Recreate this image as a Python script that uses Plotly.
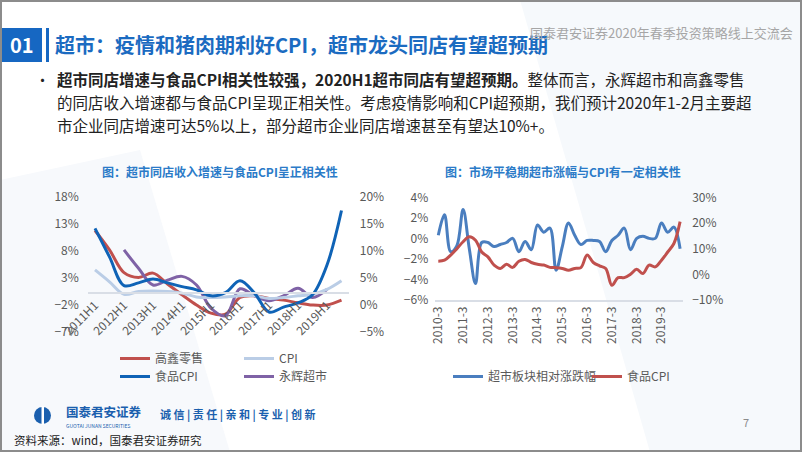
import plotly.graph_objects as go

W, H = 802, 452
def px(x): return x / W
def py(y): return 1 - y / H

FONT = "Noto Sans CJK SC"

# ---------------- Left chart data (semi-annual, %) ----------------
half_years = ["2011H1", "2011H2", "2012H1", "2012H2", "2013H1", "2013H2", "2014H1", "2014H2",
              "2015H1", "2015H2", "2016H1", "2016H2", "2017H1", "2017H2", "2018H1", "2018H2",
              "2019H1", "2019H2"]
half_ticks = ["2011H1", "2012H1", "2013H1", "2014H1", "2015H1", "2016H1", "2017H1", "2018H1", "2019H1"]
gaoxin = [11.8, 8.2, 4.0, 3.1, 3.9, 1.9, -0.1, -2.0, -3.5, -3.7, -0.6, -0.3, -0.8, -1.1, -1.6, -2.0, -2.0, -1.1]
cpi = [6.5, 4.3, 2.0, 2.5, 2.6, 2.5, 2.2, 1.5, 1.4, 1.5, 1.7, 1.7, 1.2, 1.4, 1.7, 2.0, 2.9, 4.5]
food_cpi_h = [14.2, 8.9, 3.6, 4.1, 4.8, 4.1, 3.4, 2.8, 1.7, 2.3, 4.5, 2.2, -1.3, -0.4, 0.4, 1.9, 7.4, 17.5]
yonghui = [None, None, 8.2, 4.8, 1.7, 2.6, 3.3, 1.7, -2.6, -4.0, 1.0, -0.3, -1.2, -0.3, 1.1, -0.6, 0.9, None]

# ---------------- Right chart data (quarterly) ----------------
quarters = ["2010-3", "2010-6", "2010-9", "2010-12", "2011-3", "2011-6", "2011-9", "2011-12",
            "2012-3", "2012-6", "2012-9", "2012-12", "2013-3", "2013-6", "2013-9", "2013-12",
            "2014-3", "2014-6", "2014-9", "2014-12", "2015-3", "2015-6", "2015-9", "2015-12",
            "2016-3", "2016-6", "2016-9", "2016-12", "2017-3", "2017-6", "2017-9", "2017-12",
            "2018-3", "2018-6", "2018-9", "2018-12", "2019-3", "2019-6", "2019-9", "2019-12"]
quarter_ticks = ["2010-3", "2011-3", "2012-3", "2013-3", "2014-3", "2015-3", "2016-3",
                 "2017-3", "2018-3", "2019-3"]
sector_rel = [0.3, 2.3, -1.3, -0.7, 2.8, -1.0, -4.4, -0.4, -0.4, -0.8, -0.6, -0.4, 0.0, -1.3, -0.3, -1.1,
              1.3, 0.6, 1.0, -3.1, -0.8, 1.5, 0.3, -0.6, -0.2, -0.2, -0.3, -1.3, -0.2, 0.3,
              1.0, -1.1, 0.0, 0.2, 0.0, 0.0, 1.5, 0.6, 1.1, -1.0]
food_cpi_q = [5.1, 5.5, 7.5, 10.0, 12.7, 14.6, 13.3, 8.7, 6.8, 3.6, 2.3, 3.9, 2.7, 5.1, 5.8, 4.6,
              3.9, 3.6, 2.7, 2.6, 2.3, 1.6, 2.3, 2.6, 7.5, 4.6, 3.3, 2.3, -4.3, -1.3,
              -1.3, 0.0, 2.0, 0.3, 3.6, 2.9, 5.5, 8.7, 12.0, 20.5]

RED = "#C0504D"
BLUE = "#0F63B6"
PURPLE = "#7F62A6"
LIGHT = "#BACDE6"
BLUE2 = "#4A7EBF"
TICK = "#595959"

fig = go.Figure()

# left chart traces
fig.add_trace(go.Scatter(x=half_years, y=cpi, name="CPI", mode="lines", xaxis="x", yaxis="y2",
                         line=dict(color=LIGHT, width=3, shape="spline", smoothing=1.0),
                         legend="legend", legendrank=2))
fig.add_trace(go.Scatter(x=half_years, y=gaoxin, name="高鑫零售", mode="lines", xaxis="x", yaxis="y",
                         line=dict(color=RED, width=3, shape="spline", smoothing=1.0),
                         legend="legend", legendrank=1))
fig.add_trace(go.Scatter(x=half_years, y=yonghui, name="永辉超市", mode="lines", xaxis="x", yaxis="y",
                         line=dict(color=PURPLE, width=3, shape="spline", smoothing=1.0),
                         legend="legend3", legendrank=2))
fig.add_trace(go.Scatter(x=half_years, y=food_cpi_h, name="食品CPI", mode="lines", xaxis="x", yaxis="y2",
                         line=dict(color=BLUE, width=3, shape="spline", smoothing=1.0),
                         legend="legend3", legendrank=1))

# right chart traces
fig.add_trace(go.Scatter(x=quarters, y=sector_rel, name="超市板块相对涨跌幅", mode="lines", xaxis="x3", yaxis="y3",
                         line=dict(color=BLUE2, width=3, shape="spline", smoothing=1.0),
                         legend="legend2", legendrank=1))
fig.add_trace(go.Scatter(x=quarters, y=food_cpi_q, name="食品CPI", mode="lines", xaxis="x3", yaxis="y4",
                         line=dict(color=RED, width=3, shape="spline", smoothing=1.0),
                         legend="legend2", legendrank=2))

tickfont = dict(family=FONT, size=12, color=TICK)
legfont = dict(family=FONT, size=12, color=TICK)

fig.update_layout(
    width=W, height=H,
    margin=dict(l=0, r=0, t=0, b=0, pad=0, autoexpand=False),
    paper_bgcolor="white", plot_bgcolor="rgba(0,0,0,0)",
    font=dict(family=FONT, color=TICK),
    xaxis=dict(type="category", categoryorder="array", categoryarray=half_years,
               domain=[px(87.75), px(348.75)], anchor="free", position=py(293),
               range=[-0.5, 17.5], tickvals=half_ticks, tickangle=-45, tickfont=tickfont,
               showline=True, linecolor="#D9DEE6", linewidth=1.5, showgrid=False, zeroline=False,
               ticks="", automargin=False),
    yaxis=dict(domain=[py(332), py(197)], range=[-7, 18], tick0=-7, dtick=5, ticksuffix="%",
               anchor="x", showgrid=False, zeroline=False, tickfont=tickfont, ticklabelstandoff=8,
               automargin=False),
    yaxis2=dict(overlaying="y", side="right", anchor="x", range=[-5, 20], tick0=-5, dtick=5,
                ticksuffix="%", showgrid=False, zeroline=False, tickfont=tickfont, ticklabelstandoff=10,
                automargin=False),
    xaxis3=dict(type="category", categoryorder="array", categoryarray=quarters,
                domain=[px(435.2), px(683.2)], anchor="y3", range=[-0.5, 39.5],
                tickvals=quarter_ticks, tickangle=-90, tickfont=tickfont,
                showline=True, linecolor="#D9DEE6", linewidth=1.5, showgrid=False, zeroline=False, ticks="",
                automargin=False),
    yaxis3=dict(domain=[py(300), py(197.3)], range=[-6, 4], dtick=2, ticksuffix="%", anchor="x3",
                showgrid=False, zeroline=False, tickfont=tickfont, ticklabelstandoff=6, automargin=False),
    yaxis4=dict(overlaying="y3", side="right", anchor="x3", range=[-10, 30], dtick=10, ticksuffix="%",
                showgrid=False, zeroline=False, tickfont=tickfont, ticklabelstandoff=8, automargin=False),
    legend=dict(orientation="h", x=px(115), y=py(344), xanchor="left", yanchor="top",
                entrywidth=79, itemwidth=30, font=legfont,
                bgcolor="rgba(0,0,0,0)", traceorder="normal"),
    legend3=dict(orientation="h", x=px(115), y=py(362), xanchor="left", yanchor="top",
                 entrywidth=79, itemwidth=30, font=legfont,
                 bgcolor="rgba(0,0,0,0)", traceorder="normal"),
    legend2=dict(orientation="h", x=px(448), y=py(362), xanchor="left", yanchor="top",
                 entrywidth=94, itemwidth=30, font=legfont,
                 bgcolor="rgba(0,0,0,0)", traceorder="normal"),
    showlegend=True,
)

shapes = []
# faint background sweeps
shapes.append(dict(type="path", xref="paper", yref="paper", layer="below",
                   path=f"M {px(520)},{py(0)} L {px(802)},{py(0)} L {px(802)},{py(452)} L {px(650)},{py(452)} Z",
                   fillcolor="#F6F9FC", line=dict(width=0)))
shapes.append(dict(type="path", xref="paper", yref="paper", layer="below",
                   path=f"M {px(0)},{py(180)} L {px(140)},{py(150)} L {px(230)},{py(452)} L {px(0)},{py(452)} Z",
                   fillcolor="#F7F9FC", line=dict(width=0)))
# header
shapes.append(dict(type="rect", xref="paper", yref="paper", x0=px(2), x1=px(42), y0=py(62), y1=py(28),
                   fillcolor="#1667C2", line=dict(width=0)))
shapes.append(dict(type="rect", xref="paper", yref="paper", x0=px(46), x1=px(49), y0=py(62), y1=py(28),
                   fillcolor="#1667C2", line=dict(width=0)))
# footer logo
shapes.append(dict(type="circle", xref="paper", yref="paper", x0=px(34), x1=px(51), y0=py(424), y1=py(407),
                   fillcolor="#1A5FAE", line=dict(width=0)))
shapes.append(dict(type="rect", xref="paper", yref="paper", x0=px(41.5), x1=px(44), y0=py(425), y1=py(406),
                   fillcolor="white", line=dict(width=0)))
# slide frame
shapes.append(dict(type="rect", xref="paper", yref="paper", x0=px(1), x1=px(801), y0=py(451), y1=py(1),
                   line=dict(color="#8C8C8C", width=2), fillcolor="rgba(0,0,0,0)"))
fig.update_layout(shapes=shapes)

ann = []
def text(x, y, t, size, color, xanchor="left", bold=False, family=FONT):
    ann.append(dict(x=px(x), y=py(y), xref="paper", yref="paper", text=(f"<b>{t}</b>" if bold else t),
                    showarrow=False, xanchor=xanchor, yanchor="middle",
                    font=dict(family=family, size=size, color=color)))

text(22, 45, "01", 20, "white", xanchor="center", bold=True)
text(53, 44, "超市：疫情和猪肉期利好CPI，超市龙头同店有望超预期", 20, "#1B6BC1", bold=True)
text(795, 33, "国泰君安证券2020年春季投资策略线上交流会", 13, "#A6A6A6", xanchor="right")

text(33, 79, "•", 15, "#222222")
text(55, 79, "<b>超市同店增速与食品CPI相关性较强，2020H1超市同店有望超预期。</b>整体而言，永辉超市和高鑫零售", 15.5, "#222222")
text(55, 102, "的同店收入增速都与食品CPI呈现正相关性。考虑疫情影响和CPI超预期，我们预计2020年1-2月主要超", 15.5, "#222222")
text(55, 125, "市企业同店增速可达5%以上，部分超市企业同店增速甚至有望达10%+。", 15.5, "#222222")

text(220, 171, "图：超市同店收入增速与食品CPI呈正相关性", 12, "#2B7BC8", xanchor="center", bold=True)
text(563, 171, "图：市场平稳期超市涨幅与CPI有一定相关性", 12, "#2B7BC8", xanchor="center", bold=True)

text(64, 411, "国泰君安证券", 12.5, "#1A5FAE", bold=True)
text(64, 425, "GUOTAI JUNAN SECURITIES", 5, "#1A5FAE")
text(158, 414, "诚 信 | 责 任 | 亲 和 | 专 业 | 创 新", 11, "#1A5FAE", bold=True)
text(746, 422, "7", 11, "#8C8C8C", xanchor="center")
text(12, 440, "资料来源：wind，国泰君安证券研究", 11.5, "#222222")

fig.update_layout(annotations=ann)

fig.write_html("out.html", config={"displayModeBar": False},
               post_script="document.body.style.margin='0';document.body.style.padding='0';"
                           "document.documentElement.style.overflow='hidden';")
